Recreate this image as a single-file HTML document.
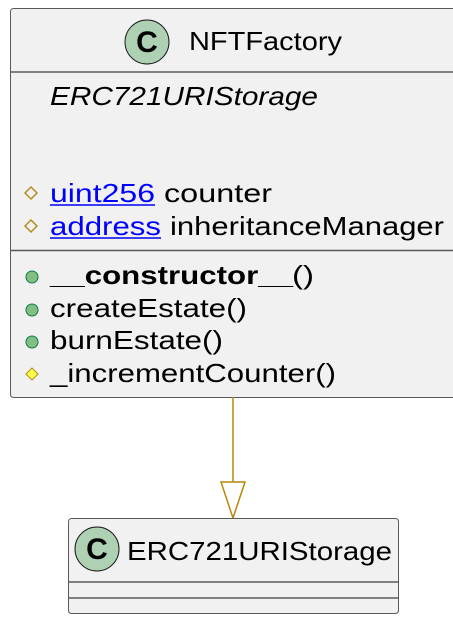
<!DOCTYPE html>
<html><head><meta charset="utf-8"><style>
html,body{margin:0;padding:0;background:#fff;width:453px;height:627px;overflow:hidden}
text{font-family:"Liberation Sans",sans-serif;font-size:26px;fill:#000}
</style></head><body>
<svg width="453" height="627" xmlns="http://www.w3.org/2000/svg">
<rect x="10.5" y="8.5" width="460" height="389" rx="3" fill="#f1f1f1" stroke="#5a5a5a" stroke-width="1"/>
<line x1="11" y1="72" x2="453" y2="72" stroke="#5a5a5a" stroke-width="1.5"/>
<line x1="11" y1="250.5" x2="453" y2="250.5" stroke="#5a5a5a" stroke-width="1.5"/>
<circle cx="147" cy="42" r="22" fill="#add1b2" stroke="#181818" stroke-width="1"/>
<text x="147" y="52" text-anchor="middle" style="font-weight:bold;font-size:30px">C</text>
<text x="189" y="50" textLength="153" lengthAdjust="spacingAndGlyphs">NFTFactory</text>
<text x="50" y="105" style="font-style:italic" textLength="268" lengthAdjust="spacingAndGlyphs">ERC721URIStorage</text>
<polygon points="31,187 37,193 31,199 25,193" fill="none" stroke="#b38d22" stroke-width="1.5"/>
<polygon points="31,220 37,226 31,232 25,226" fill="none" stroke="#b38d22" stroke-width="1.5"/>
<text x="50" y="202" style="fill:#0000ff" textLength="105" lengthAdjust="spacingAndGlyphs">uint256</text>
<line x1="50" y1="205" x2="155" y2="205" stroke="#0000ff" stroke-width="1.5"/>
<text x="164" y="202" textLength="108" lengthAdjust="spacingAndGlyphs">counter</text>
<text x="50" y="235" style="fill:#0000ff" textLength="111" lengthAdjust="spacingAndGlyphs">address</text>
<line x1="50" y1="238" x2="161" y2="238" stroke="#0000ff" stroke-width="1.5"/>
<text x="170" y="235" textLength="274" lengthAdjust="spacingAndGlyphs">inheritanceManager</text>
<circle cx="32" cy="277" r="6" fill="#84be84" stroke="#038048" stroke-width="1"/>
<circle cx="32" cy="310" r="6" fill="#84be84" stroke="#038048" stroke-width="1"/>
<circle cx="32" cy="342" r="6" fill="#84be84" stroke="#038048" stroke-width="1"/>
<polygon points="32,368 38,374 32,380 26,374" fill="#ffff44" stroke="#b38d22" stroke-width="1"/>
<text x="50" y="284" style="font-weight:bold" textLength="243" lengthAdjust="spacingAndGlyphs">__constructor__</text>
<text x="292" y="284" textLength="22" lengthAdjust="spacingAndGlyphs">()</text>
<text x="50" y="317" textLength="197" lengthAdjust="spacingAndGlyphs">createEstate()</text>
<text x="50" y="349" textLength="173" lengthAdjust="spacingAndGlyphs">burnEstate()</text>
<text x="50" y="382" textLength="286" lengthAdjust="spacingAndGlyphs">_incrementCounter()</text>
<line x1="233" y1="397" x2="233" y2="482" stroke="#b8860b" stroke-width="1.5"/>
<polygon points="221,482 245,482 233,518" fill="none" stroke="#b8860b" stroke-width="1.5"/>
<rect x="68.5" y="518.5" width="330" height="95" rx="3" fill="#f1f1f1" stroke="#5a5a5a" stroke-width="1"/>
<line x1="69" y1="582" x2="398" y2="582" stroke="#5a5a5a" stroke-width="1.5"/>
<line x1="69" y1="598" x2="398" y2="598" stroke="#5a5a5a" stroke-width="1.5"/>
<circle cx="97" cy="549" r="22" fill="#add1b2" stroke="#181818" stroke-width="1"/>
<text x="97" y="559" text-anchor="middle" style="font-weight:bold;font-size:30px">C</text>
<text x="127" y="560" textLength="265" lengthAdjust="spacingAndGlyphs">ERC721URIStorage</text>
</svg>
</body></html>
